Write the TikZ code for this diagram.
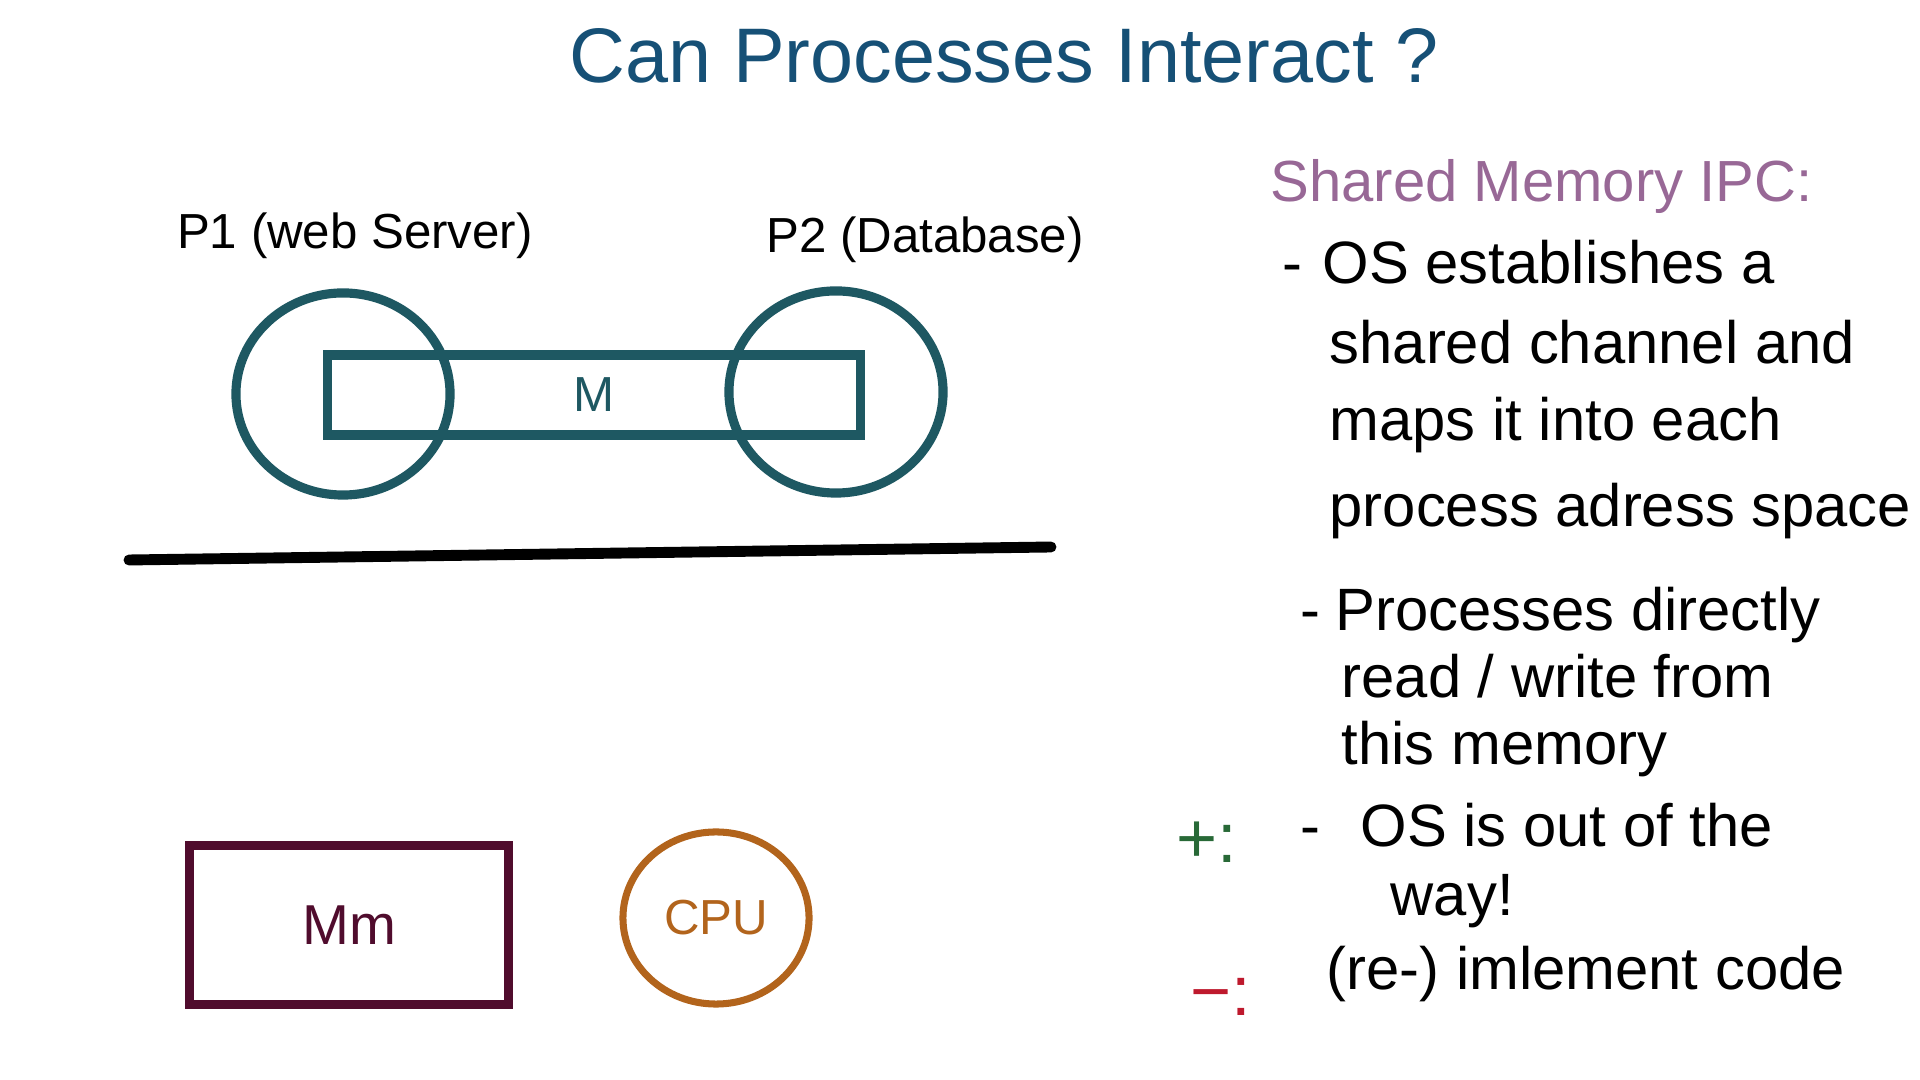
\documentclass[tikz,border=0pt]{standalone}
\usepackage{fontspec}
\setmainfont{Liberation Sans}
\usetikzlibrary{shapes.geometric}
\definecolor{inkblue}{RGB}{22,80,118}
\definecolor{inkteal}{RGB}{30,88,98}
\definecolor{inkplum}{RGB}{80,12,45}
\definecolor{inkorange}{RGB}{178,100,28}
\definecolor{inkmauve}{RGB}{152,104,150}
\definecolor{inkgreen}{RGB}{40,105,55}
\definecolor{inkred}{RGB}{190,25,45}

\begin{document}
\begin{tikzpicture}[x=0.01cm,y=-0.01cm,
  proc/.style={ellipse,draw=inkteal,line width=2.6pt,
               minimum width=2.14cm,minimum height=2.02cm},
  shm/.style={rectangle,draw=inkteal,line width=2.6pt,text=inkteal,
              minimum width=5.32cm,minimum height=0.8cm,
              font=\fontsize{14}{16}\selectfont},
  lbl/.style={anchor=base,inner sep=0pt,font=\fontsize{14}{16}\selectfont},
  txt/.style={anchor=base west,inner sep=0pt,font=\fontsize{17}{20}\selectfont},
  sgn/.style={anchor=base west,inner sep=0pt,font=\fontsize{20}{22}\selectfont},
]
\useasboundingbox (0,0) rectangle (1920,1080);

% Title
\node[anchor=base,inner sep=0pt,text=inkblue,font=\fontsize{22}{26}\selectfont] (title) at (1004,83) {Can Processes Interact ?};

% Processes sharing one memory region
\node[lbl] (p1lbl) at (355,249) {P1 (web Server)};
\node[lbl] (p2lbl) at (925,253) {P2 (Database)};
\node[shm] (shm) at (594,395) {M};
\node[proc] (p1) at (343,394) {};
\node[proc] (p2) at (836,392) {};

% Hardware line
\draw[line width=3.1pt,line cap=round] (129,560) -- (1051,547);

% Main memory and CPU
\node[rectangle,draw=inkplum,line width=2.6pt,text=inkplum,
      minimum width=3.19cm,minimum height=1.59cm,
      font=\fontsize{16}{19}\selectfont] (mm) at (349,925) {Mm};
\node[ellipse,draw=inkorange,line width=2pt,text=inkorange,inner sep=0pt,
      minimum width=1.86cm,minimum height=1.72cm,
      font=\fontsize{14}{17}\selectfont] (cpu) at (716,918) {CPU};

% Notes
\node[txt,text=inkmauve,font=\fontsize{16.5}{20}\selectfont] (hd) at (1270,202) {Shared Memory IPC:};
\node[txt] (n1) at (1282,284) {-\hspace{0.2cm}OS establishes a};
\node[txt] (n2) at (1329,364) {shared channel and};
\node[txt] (n3) at (1329,441) {maps it into each};
\node[txt] (n4) at (1329,527) {process adress space};
\node[txt] (n5) at (1300,631) {-\hspace{0.15cm}Processes directly};
\node[txt] (n6) at (1341,698) {read / write from};
\node[txt] (n7) at (1341,765) {this memory};

\node[sgn,text=inkgreen] (pro) at (1176,863) {+:};
\node[txt] (n8) at (1300,847) {-\hspace{0.4cm}OS is out of the};
\node[txt] (n9) at (1390,916) {way!};

\node[sgn,text=inkred] (con) at (1190,1016) {\textminus:};
\node[txt] (n10) at (1326,990) {(re-) imlement code};
\end{tikzpicture}
\end{document}
